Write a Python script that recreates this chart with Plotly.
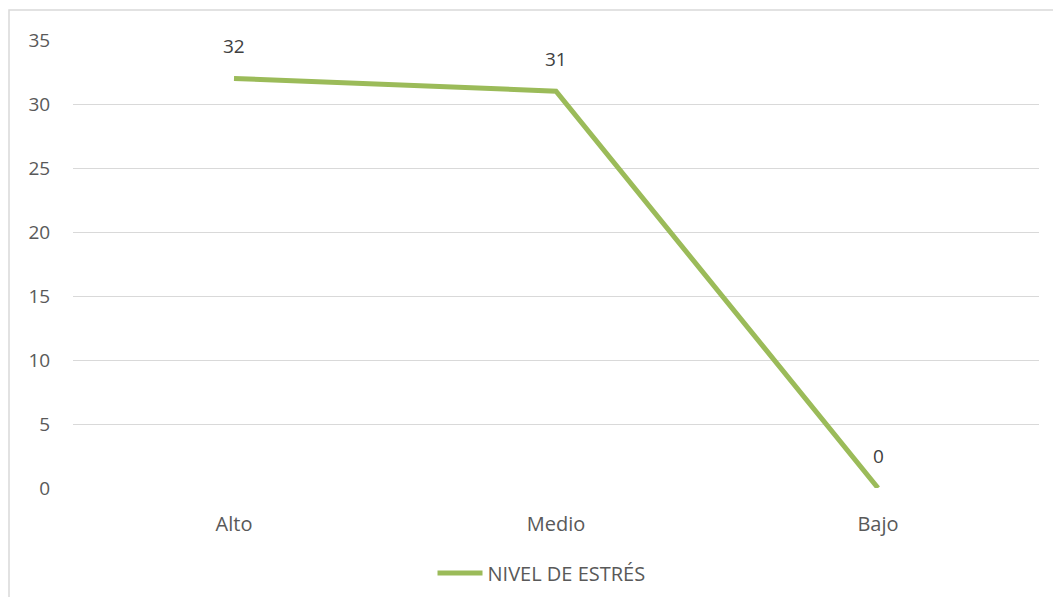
import plotly.graph_objects as go

categories = ["Alto", "Medio", "Bajo"]
values = [32, 31, 0]
series_name = "NIVEL DE ESTRÉS"
y_ticks = [0, 5, 10, 15, 20, 25, 30, 35]

line_color = "#9BBB59"
font_family = "Open Sans, Noto Sans, sans-serif"

fig = go.Figure()
fig.add_trace(go.Scatter(
    x=categories, y=values, mode="lines", name=series_name,
    line=dict(color=line_color, width=5),
    showlegend=True,
))

for c, v in zip(categories, values):
    fig.add_annotation(x=c, y=v, text=str(v), showarrow=False, yshift=32,
                       font=dict(size=19, color="#404040", family=font_family))

W, H = 1045, 589
ml, mr, mt, mb = 65, 14, 32, 109
pw, ph = W - ml - mr, H - mt - mb

fig.add_shape(type="rect", xref="paper", yref="paper",
              x0=(1 - ml) / pw, x1=1.2, y0=-0.5, y1=(H - mb - 2) / ph,
              line=dict(color="#D9D9D9", width=1.5), fillcolor="rgba(0,0,0,0)", layer="below")

fig.update_layout(
    width=W, height=H,
    margin=dict(l=ml, r=mr, t=mt, b=mb, autoexpand=False),
    plot_bgcolor="white", paper_bgcolor="white",
    font=dict(family=font_family, size=19, color="#595959"),
    xaxis=dict(range=[-0.5, 2.5], showgrid=False, zeroline=False, showline=False,
               ticks="outside", ticklen=18, tickcolor="rgba(0,0,0,0)", automargin=False,
               tickfont=dict(size=20, color="#595959")),
    yaxis=dict(range=[0, 35], tickvals=y_ticks, showgrid=True, gridcolor="#D9D9D9",
               gridwidth=1.3, zeroline=False, showline=False, automargin=False,
               ticks="outside", ticklen=18, tickcolor="rgba(0,0,0,0)",
               tickfont=dict(size=19, color="#595959")),
    legend=dict(orientation="h", x=0.485, xanchor="center", y=-0.19, yanchor="middle",
                font=dict(size=20, color="#595959"), itemwidth=45),
    showlegend=True,
)

fig.write_html("out.html")
